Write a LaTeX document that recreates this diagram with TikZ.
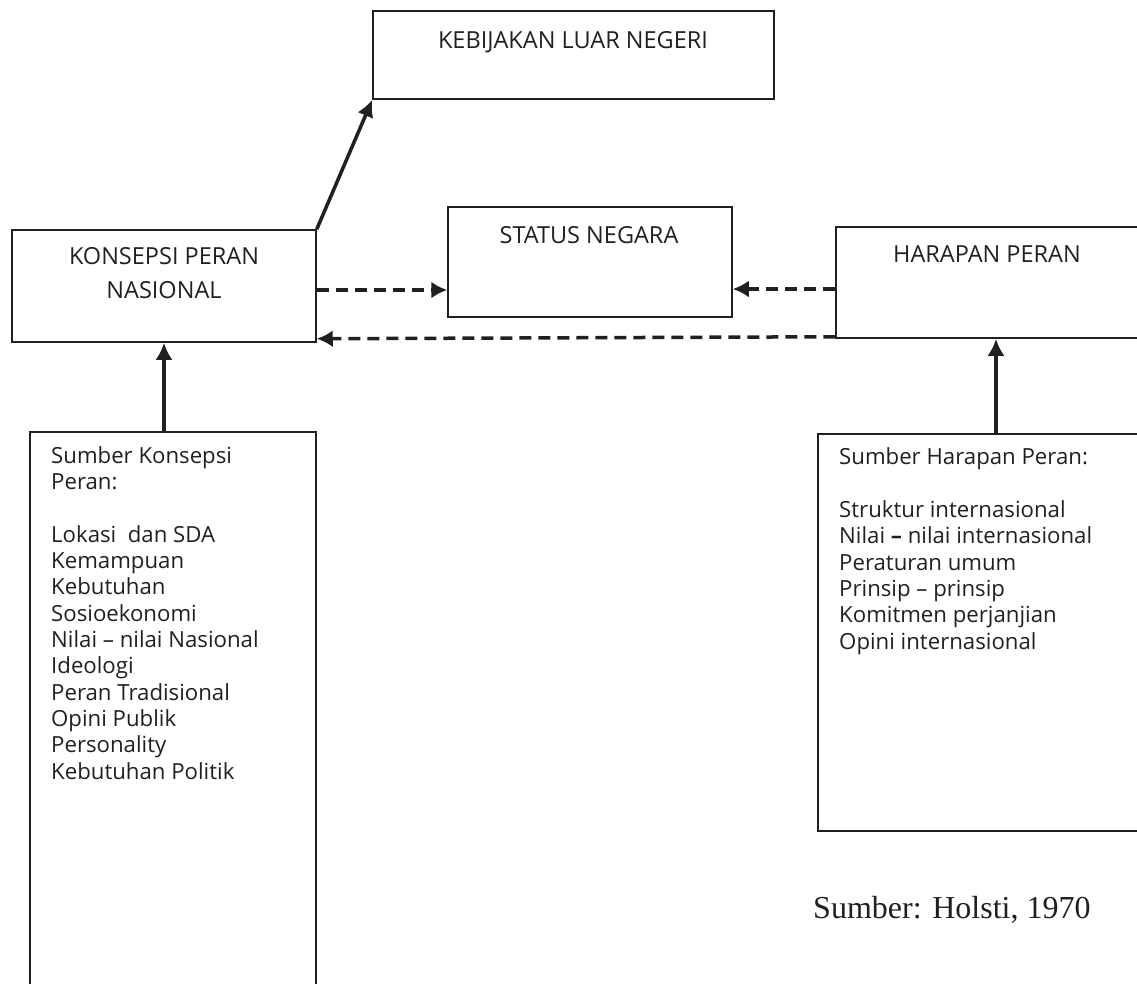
\documentclass[tikz,border=0pt]{standalone}
\usepackage{fontspec}
\setmainfont{Open Sans}
\newfontfamily\timesfont{Liberation Serif}
\usetikzlibrary{arrows.meta,calc}
\definecolor{ink}{HTML}{231F20}
\begin{document}
\begin{tikzpicture}[x=1pt,y=-1pt,
  box/.style={draw=ink,line width=1.5pt,rectangle,inner sep=0pt},
  lbl/.style={inner sep=0pt,text=ink,font=\fontsize{23.5}{34}\selectfont,align=center},
  lst/.style={inner sep=0pt,text=ink,font=\fontsize{22.2}{26.3}\selectfont,align=left,anchor=base west},
  solidarrow/.style={draw=ink,line width=3.5pt,-{Latex[length=17pt,width=17pt]}},
  dasharrow/.style={draw=ink,line width=3.5pt,dash pattern=on 12pt off 7pt,-{Latex[length=16pt,width=17pt]}}]
\useasboundingbox (0,0) rectangle (1137,983);
\clip (0,0) rectangle (1137,983);
% boxes
\node[box,minimum width=401pt,minimum height=88pt] (kebijakan) at (573.5,55) {};
\node[box,minimum width=304pt,minimum height=112pt] (konsepsi) at (164,286) {};
\node[box,minimum width=284pt,minimum height=110pt] (status) at (590,262) {};
\node[box,minimum width=320pt,minimum height=111pt] (harapan) at (996,282.5) {};
\node[box,minimum width=286pt,minimum height=580pt] (srcL) at (173,722) {};
\node[box,minimum width=340pt,minimum height=397pt] (srcR) at (988,632.5) {};
% titles
\node[lbl] (tKeb) at (573,42) {KEBIJAKAN LUAR NEGERI};
\node[lbl] (tKon) at (164,273) {KONSEPSI PERAN\\NASIONAL};
\node[lbl] (tSta) at (589,235) {STATUS NEGARA};
\node[lbl] (tHar) at (987,254) {HARAPAN PERAN};
% lists (base anchor = baseline of last line)
\node[lst] (lL) at (51,779) {Sumber Konsepsi\\Peran:\\[26.3pt]Lokasi\ \ dan SDA\\Kemampuan\\Kebutuhan\\Sosioekonomi\\Nilai – nilai Nasional\\Ideologi\\Peran Tradisional\\Opini Publik\\Personality\\Kebutuhan Politik};
\node[lst] (lR) at (839,649) {Sumber Harapan Peran:\\[26.3pt]Struktur internasional\\Nilai \textbf{–} nilai internasional\\Peraturan umum\\Prinsip – prinsip\\Komitmen perjanjian\\Opini internasional};
\node[inner sep=0pt,anchor=base west,text=ink,font=\timesfont\fontsize{32}{38}\selectfont] (src) at (813,918) {Sumber: Holsti, 1970};
% connectors
\draw[solidarrow] (konsepsi.north east) -- (kebijakan.south west);
\coordinate (d1) at ([yshift=-4pt]konsepsi.east);
\draw[dasharrow] (d1) -- (d1 -| status.west);
\coordinate (d2) at ([yshift=-6.5pt]harapan.west);
\draw[dasharrow] (d2) -- (d2 -| status.east);
\draw[dasharrow] ([yshift=2pt]harapan.south west) -- ([yshift=4pt]konsepsi.south east);
\draw[solidarrow] (konsepsi.south |- srcL.north) -- (konsepsi.south);
\draw[solidarrow] (harapan.south |- srcR.north) -- (harapan.south);
\end{tikzpicture}
\end{document}
